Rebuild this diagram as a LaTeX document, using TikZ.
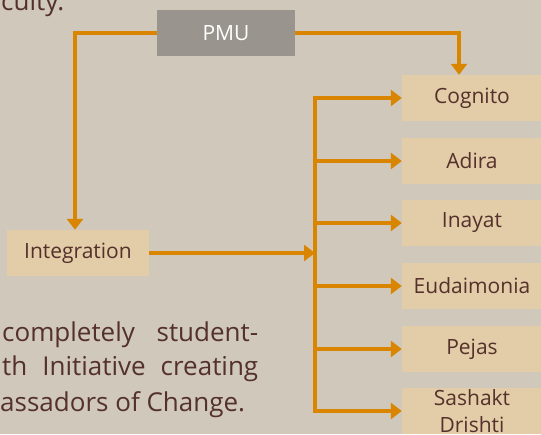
\documentclass[tikz,border=0pt]{standalone}
\usepackage{fontspec}
\setmainfont{Open Sans}
\usetikzlibrary{arrows.meta}
\definecolor{bgsand}{HTML}{D0C8BB}
\definecolor{boxsand}{HTML}{E3CCA8}
\definecolor{pmugrey}{HTML}{99948D}
\definecolor{linkorange}{HTML}{D98500}
\definecolor{inkbrown}{HTML}{54312A}
\tikzset{
	unit/.style={fill=boxsand, text=inkbrown, minimum width=140, minimum height=46, inner sep=0, align=center, font=\fontsize{21}{27}\selectfont},
	pmubox/.style={fill=pmugrey, text=white, minimum width=138, minimum height=46, inner sep=0, font=\fontsize{21}{24}\selectfont},
	flow/.style={draw=linkorange, line width=3.5, -{Triangle[length=11,width=16]}},
	link/.style={draw=linkorange, line width=3.5, line cap=rect},
	bodytext/.style={anchor=base west, inner sep=0, text=inkbrown, font=\fontsize{26}{35}\selectfont},
}

\begin{document}
\begin{tikzpicture}[x=1pt, y=-1pt]
		%%%%% START %%%%%
		
		\fill[bgsand] (0, 0) rectangle (541, 434);
		\useasboundingbox (0, 0) rectangle (541, 434);
		\clip (0, 0) rectangle (541, 434);
		
		\node[bodytext] (tail) at (1, 10) {culty.};
		
		\node[pmubox] (pmu) at (226, 33) {PMU};
		\node[unit, minimum width=142] (integ) at (78, 253) {Integration};
		
		\node[unit] (cognito) at (472, 98) {Cognito};
		\node[unit] (adira) at (472, 161) {Adira};
		\node[unit] (inayat) at (472, 223) {Inayat};
		\node[unit] (eudaimonia) at (472, 286) {Eudaimonia};
		\node[unit] (pejas) at (472, 349) {Pejas};
		\node[unit] (sashakt) at (472, 411) {Sashakt\\Drishti};
		
		% pmu down to integration and cognito
		\draw[flow] (pmu.west) -| ([xshift=-3]integ.north);
		\coordinate (drop) at (459, 0);
		\draw[flow] (pmu.east) -| (drop |- cognito.north);
		
		% bus to the units
		\coordinate (bus) at (315, 0);
		\draw[link] (bus |- cognito.west) -- (bus |- sashakt.west);
		\draw[flow] (integ.east) -- (bus |- integ.east);
		\foreach \unitname in {cognito, adira, inayat, eudaimonia, pejas, sashakt}
			\draw[flow] (bus |- \unitname.west) -- (\unitname.west);
		
		\node[bodytext] (para1) at (2, 341) {\makebox[256pt][s]{completely student-}};
		\node[bodytext] (para2) at (2, 375) {\makebox[256pt][s]{th Initiative creating}};
		\node[bodytext] (para3) at (0, 411) {assadors of Change.};
		
		%%%%% END %%%%%
	\end{tikzpicture}
\end{document}
